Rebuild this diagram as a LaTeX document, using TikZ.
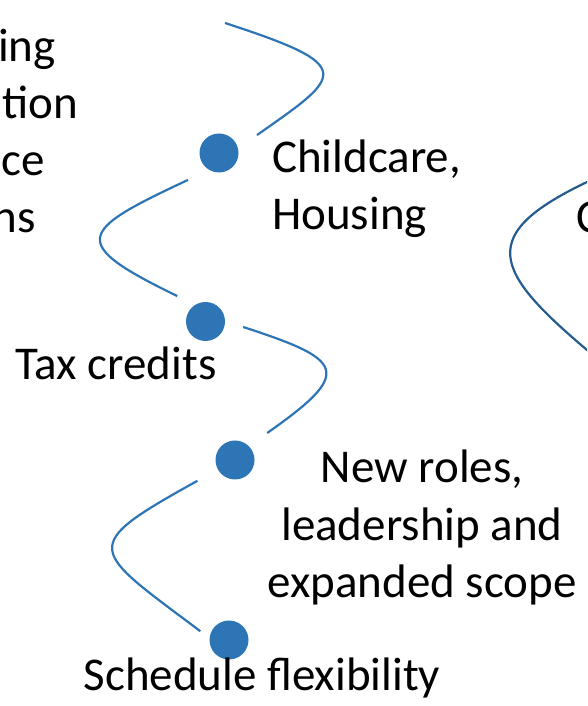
\documentclass[tikz,border=0pt]{standalone}
\usepackage{fontspec}
\setmainfont{Carlito}
\usetikzlibrary{calc}
\definecolor{dotblue}{HTML}{2E75B6}
\definecolor{deepblue}{HTML}{245C8F}
\begin{document}
\begin{tikzpicture}[x=1pt,y=1pt,
  dot/.style={circle,fill=dotblue,draw=none,minimum size=39pt,inner sep=0pt},
  link/.style={draw=dotblue,line width=2.2pt},
  farlink/.style={draw=deepblue,line width=2.2pt},
  label/.style={inner sep=0pt,font=\fontsize{47}{57.5}\selectfont,text=black}]
\useasboundingbox (0,0) rectangle (587,706);
\clip (0,0) rectangle (587,706);

% milestones
\node[dot] (d1) at (219,553) {};
\node[dot] (d2) at (205.5,384.5) {};
\node[dot] (d3) at (235,246) {};
\node[dot] (d4) at (229,66) {};

% labels (multi-line nodes sit on the baseline of their last line)
\node[label,align=left,anchor=base west] (care) at (272,476) {Childcare,\\Housing};
\node[label,anchor=base] (tax) at (116,326) {Tax credits};
\node[label,align=center,anchor=base] (roles) at (422,108) {New roles,\\leadership and\\expanded scope};
\node[label,anchor=base] (sched) at (262,16) {Schedule flexibility};

% neighbouring column, cut by the frame
\node[label,anchor=base east] (fa) at (56,644) {ing};
\node[label,anchor=base east] (fb) at (78,587) {tion};
\node[label,anchor=base east] (fc) at (45,530) {ce};
\node[label,anchor=base east] (fd) at (36,473) {ns};
\node[label,anchor=base west] (cpart) at (576,473) {C};

% winding path
\coordinate (topend) at (225,683);
\draw[link] (topend) .. controls +(133.1,-43.3) and +(86,60.2) .. ($(d1)+(25.3:42)$);
\draw[link] ($(d1)+(221:41)$) .. controls +(-110.5,-51.6) and +(-109.7,53.4) .. ($(d2)+(138:38)$);
\draw[link] ($(d2)+(-8.3:38)$) .. controls +(101.3,-32.9) and +(87.2,61.1) .. ($(d3)+(40:42)$);
\draw[link] ($(d3)+(209:43)$) .. controls +(-120.8,-66.9) and +(-110.3,83.1) .. ($(d4)+(163:30)$);

% bend of the next path on the right
\coordinate (rtop) at (591.5,526.1);
\coordinate (rbot) at (590.8,352.8);
\draw[farlink] (rtop) .. controls +(-116.9,-54.6) and +(-98.8,82.9) .. (rbot);
\end{tikzpicture}
\end{document}
